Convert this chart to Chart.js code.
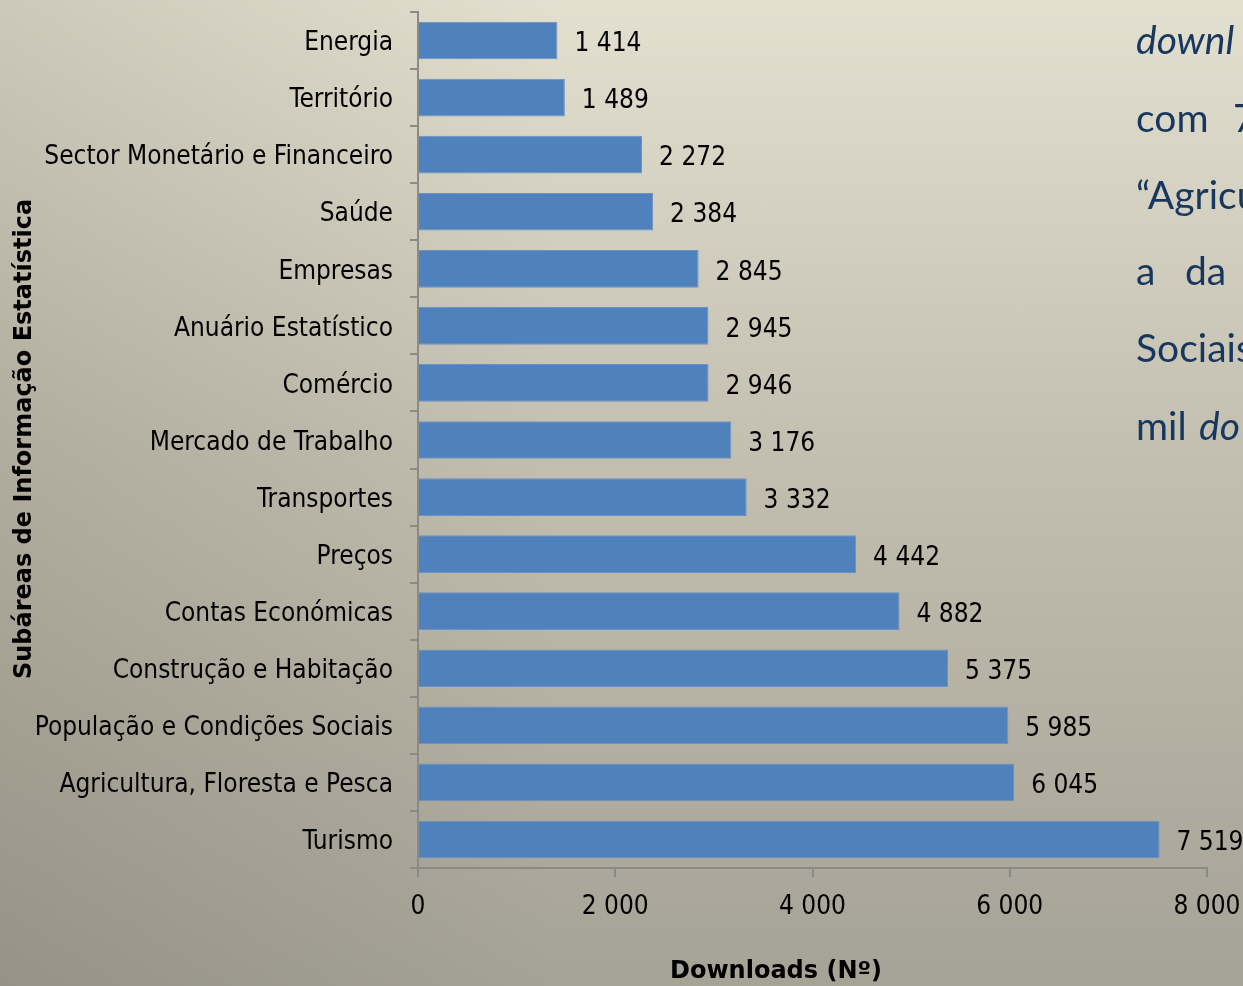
<!DOCTYPE html>
<html>
<head>
<meta charset="utf-8">
<script src="https://cdn.jsdelivr.net/npm/chart.js@4/dist/chart.umd.min.js"></script>
<style>
  html, body { margin:0; padding:0; width:1243px; height:986px; overflow:hidden; }
  body {
    position:relative;
    background:
      linear-gradient(to right, rgba(40,35,20,0.12) 0%, rgba(40,35,20,0) 45%),
      linear-gradient(to bottom, #e3e0d0 0%, #c3c0b1 45%, #a5a296 100%);
  }
  #wrap { position:absolute; left:0; top:0; width:1243px; height:986px; }
  .side { position:absolute; font-family: Lato, "Open Sans", sans-serif; font-size:39px; color:#17375e; white-space:pre; line-height:1; }
  .it { font-style:italic; }
</style>
</head>
<body>
<div id="wrap"><canvas id="c" width="1243" height="986"></canvas></div>

<div class="side it" style="left:1136px; top:20px;">downl</div>
<div class="side" style="left:1136px; top:98px;">com</div>
<div class="side" style="left:1233px; top:98px;">7</div>
<div class="side" style="left:1136px; top:175px;">“Agricu</div>
<div class="side" style="left:1136px; top:251px;">a</div>
<div class="side" style="left:1185px; top:251px;">da</div>
<div class="side" style="left:1136px; top:328px;">Sociais</div>
<div class="side" style="left:1136px; top:406px;">mil</div>
<div class="side it" style="left:1199px; top:406px;">do</div>

<script>
const categories = [
  "Energia", "Território", "Sector Monetário e Financeiro", "Saúde", "Empresas",
  "Anuário Estatístico", "Comércio", "Mercado de Trabalho", "Transportes", "Preços",
  "Contas Económicas", "Construção e Habitação", "População e Condições Sociais",
  "Agricultura, Floresta e Pesca", "Turismo"
];
const downloads = [1414, 1489, 2272, 2384, 2845, 2945, 2946, 3176, 3332, 4442, 4882, 5375, 5985, 6045, 7519];
const xTicks = [0, 2000, 4000, 6000, 8000];
const yTitle = "Subáreas de Informação Estatística";
const xTitle = "Downloads (Nº)";

const FONT = '"DejaVu Sans Condensed", "DejaVu Sans", sans-serif';
const BOLD = 'bold 24px "DejaVu Sans", sans-serif';
const fmt = v => String(v).replace(/\B(?=(\d{3})+(?!\d))/g, " ");

const valueLabels = {
  id: 'valueLabels',
  afterDatasetsDraw(chart) {
    const ctx = chart.ctx;
    const meta = chart.getDatasetMeta(0);
    ctx.save();
    ctx.font = '26px ' + FONT;
    ctx.fillStyle = '#000';
    ctx.textAlign = 'left';
    ctx.textBaseline = 'middle';
    meta.data.forEach((bar, i) => {
      ctx.fillText(fmt(downloads[i]), bar.x + 17, bar.y + 4);
    });
    ctx.restore();
  }
};

const axisTitles = {
  id: 'axisTitles',
  afterDraw(chart) {
    const ctx = chart.ctx;
    const a = chart.chartArea;
    ctx.save();
    ctx.font = BOLD;
    ctx.fillStyle = '#000';
    ctx.textAlign = 'center';
    ctx.textBaseline = 'middle';
    ctx.fillText(xTitle, 776, 972);
    ctx.translate(25, (a.top + a.bottom) / 2 - 1);
    ctx.rotate(-Math.PI / 2);
    ctx.fillText(yTitle, 0, 0);
    ctx.restore();
  }
};

new Chart(document.getElementById('c'), {
  type: 'bar',
  data: {
    labels: categories,
    datasets: [{
      data: downloads,
      backgroundColor: '#4f81bd',
      borderColor: '#6a92c6',
      borderWidth: 1,
      barPercentage: 0.66,
      categoryPercentage: 1.0
    }]
  },
  options: {
    indexAxis: 'y',
    responsive: false,
    animation: false,
    devicePixelRatio: 1,
    layout: { padding: { top: 12, right: 36, left: 0, bottom: 0 } },
    plugins: { legend: { display: false }, tooltip: { enabled: false } },
    scales: {
      x: {
        type: 'linear',
        min: 0, max: 8000,
        afterBuildTicks: s => { s.ticks = xTicks.map(v => ({ value: v })); },
        afterFit: s => { s.height = 118; s.paddingLeft = 0; s.paddingRight = 0; },
        grid: { drawOnChartArea: false, drawTicks: true, tickLength: 9, color: '#8a8a86', lineWidth: 2 },
        border: { display: true, color: '#8a8a86', width: 2 },
        ticks: { color: '#000', font: { size: 26, family: FONT }, padding: 15, callback: v => fmt(v), maxRotation: 0 },
        title: { display: false }
      },
      y: {
        afterFit: s => { s.width = 418; s.paddingTop = 0; s.paddingBottom = 0; },
        grid: { drawOnChartArea: false, drawTicks: true, tickLength: 8, color: '#8a8a86', lineWidth: 2, offset: true },
        border: { display: true, color: '#8a8a86', width: 2 },
        ticks: { color: '#000', font: { size: 26, family: FONT }, padding: 17, autoSkip: false, labelOffset: 3 },
        title: { display: false }
      }
    }
  },
  plugins: [valueLabels, axisTitles]
});
</script>
</body>
</html>
